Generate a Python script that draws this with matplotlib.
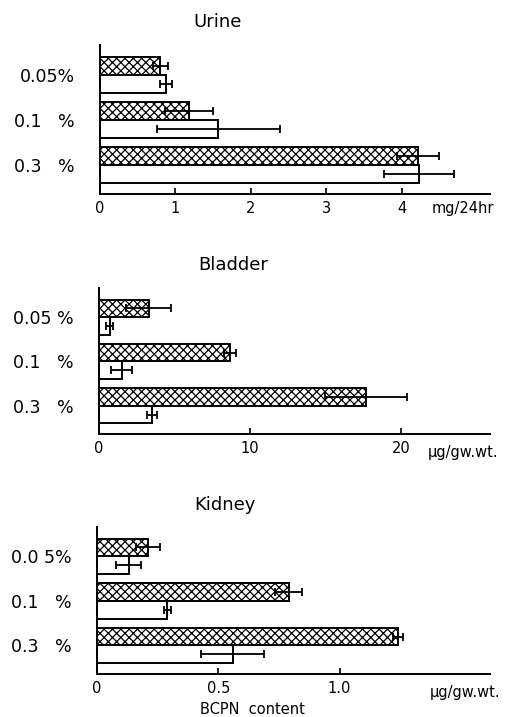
import matplotlib
matplotlib.use("Agg")
import matplotlib.pyplot as plt
import numpy as np

# dose groups, top to bottom
urine_labels = ["0.05%", "0.1   %", "0.3   %"]
bladder_labels = ["0.05 %", "0.1   %", "0.3   %"]
kidney_labels = ["0.0 5%", "0.1   %", "0.3   %"]

# hatched = first series, open = second series (mean, error)
urine_hatched = [0.80, 1.18, 4.22]
urine_hatched_err = [0.10, 0.32, 0.28]
urine_open = [0.88, 1.57, 4.23]
urine_open_err = [0.08, 0.82, 0.46]

bladder_hatched = [3.3, 8.7, 17.7]
bladder_hatched_err = [1.5, 0.4, 2.7]
bladder_open = [0.7, 1.5, 3.5]
bladder_open_err = [0.25, 0.7, 0.35]

kidney_hatched = [0.21, 0.79, 1.24]
kidney_hatched_err = [0.05, 0.055, 0.02]
kidney_open = [0.13, 0.29, 0.56]
kidney_open_err = [0.05, 0.015, 0.13]

urine_ticks = [0, 1, 2, 3, 4]
urine_ticklabels = ["0", "1", "2", "3", "4"]
bladder_ticks = [0, 10, 20]
bladder_ticklabels = ["0", "10", "20"]
kidney_ticks = [0, 0.5, 1.0]
kidney_ticklabels = ["0", "0.5", "1.0"]

W, H = 521, 717
fig = plt.figure(figsize=(W / 100, H / 100), dpi=100)


def px_rect(left, top, right, bottom):
    return [left / W, 1 - bottom / H, (right - left) / W, (bottom - top) / H]


panels = [
    dict(title="Urine", rect=(100, 45, 490, 194), xmax=5.17, labels=urine_labels,
         h=urine_hatched, he=urine_hatched_err, o=urine_open, oe=urine_open_err,
         ticks=urine_ticks, ticklabels=urine_ticklabels, unit="mg/24hr",
         title_xy=(218, 22), unit_xy=(432, 208)),
    dict(title="Bladder", rect=(99, 288, 490, 434), xmax=25.9, labels=bladder_labels,
         h=bladder_hatched, he=bladder_hatched_err, o=bladder_open, oe=bladder_open_err,
         ticks=bladder_ticks, ticklabels=bladder_ticklabels, unit="µg/gw.wt.",
         title_xy=(233, 265), unit_xy=(428, 452)),
    dict(title="Kidney", rect=(97, 527, 490, 674), xmax=1.62, labels=kidney_labels,
         h=kidney_hatched, he=kidney_hatched_err, o=kidney_open, oe=kidney_open_err,
         ticks=kidney_ticks, ticklabels=kidney_ticklabels, unit="µg/gw.wt.",
         title_xy=(225, 505), unit_xy=(430, 692)),
]

plt.rcParams["hatch.linewidth"] = 0.9
bar_h = 0.4
err_kw = dict(ecolor="black", elinewidth=1.3, capsize=3, capthick=1.3)

for p in panels:
    ax = fig.add_axes(px_rect(*p["rect"]))
    y = np.arange(len(p["labels"]))
    ax.barh(y - bar_h / 2, p["h"], height=bar_h, xerr=p["he"], color="white",
            edgecolor="black", linewidth=1.4, hatch="xxxx", error_kw=err_kw)
    ax.barh(y + bar_h / 2, p["o"], height=bar_h, xerr=p["oe"], color="white",
            edgecolor="black", linewidth=1.4, error_kw=err_kw)
    ax.set_ylim(2.64, -0.66)
    ax.set_xlim(0, p["xmax"])
    ax.set_yticks(y)
    ax.set_yticklabels(p["labels"], fontsize=12.5)
    ax.tick_params(axis="y", length=0, pad=18)
    ax.set_xticks(p["ticks"])
    ax.set_xticklabels(p["ticklabels"], fontsize=10.5)
    ax.tick_params(axis="x", direction="in", length=4, width=1.2, pad=5)
    for s in ["top", "right"]:
        ax.spines[s].set_visible(False)
    for s in ["left", "bottom"]:
        ax.spines[s].set_linewidth(1.4)
    fig.text(p["title_xy"][0] / W, 1 - p["title_xy"][1] / H, p["title"],
             ha="center", va="center", fontsize=13)
    fig.text(p["unit_xy"][0] / W, 1 - p["unit_xy"][1] / H, p["unit"],
             ha="left", va="center", fontsize=10.5)

fig.text(252 / W, 1 - 709 / H, "BCPN  content", ha="center", va="center", fontsize=10.5)

fig.savefig("out.png", dpi=100)
